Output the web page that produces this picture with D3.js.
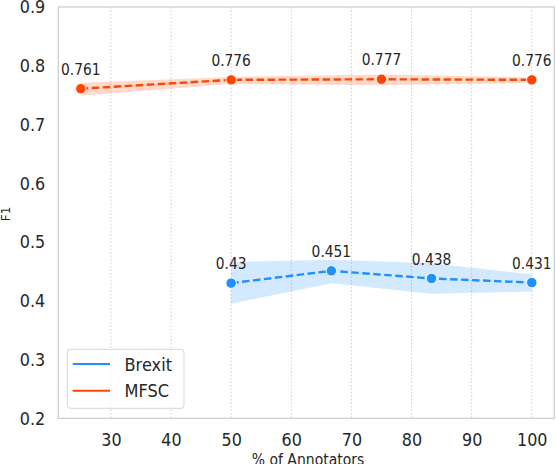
<!DOCTYPE html>
<html><head><meta charset="utf-8">
<script src="https://cdn.jsdelivr.net/npm/d3@7"></script>
<style>body{margin:0;background:#fff}svg{display:block}text{font-family:"DejaVu Sans",sans-serif;fill:#262626}
text.st{transform-box:fill-box;transform-origin:center;transform:scaleY(1.12)}</style>
</head><body><svg id="c" width="556" height="464"></svg>
<script>
const xTicks = [30,40,50,60,70,80,90,100];
const yTicks = [0.2,0.3,0.4,0.5,0.6,0.7,0.8,0.9];
const brexitX = [50, 66.67, 83.33, 100];
const brexitY = [0.43, 0.451, 0.438, 0.431];
const brexitLo = [0.395, 0.430, 0.412, 0.416];
const brexitHi = [0.466, 0.470, 0.464, 0.445];
const mfscX = [25, 50, 75, 100];
const mfscY = [0.761, 0.776, 0.777, 0.776];
const mfscLo = [0.749, 0.769, 0.767, 0.771];
const mfscHi = [0.771, 0.781, 0.785, 0.780];
const seriesNames = ["Brexit","MFSC"];
const colors = ["#1E90FF","#FF4500"];

const svg = d3.select("#c");
const L=58.3, R=554.3, T=7, B=418.3;
const x = d3.scaleLinear().domain([21.25,103.75]).range([L,R]);
const y = d3.scaleLinear().domain([0.2,0.9]).range([B,T]);

// grid
svg.append("g").selectAll("line").data(xTicks).join("line")
  .attr("x1",d=>x(d)).attr("x2",d=>x(d)).attr("y1",T).attr("y2",B)
  .attr("stroke","#c8c8c8").attr("stroke-width",0.9).attr("stroke-dasharray","1.5,2");
// spines
svg.append("rect").attr("x",L).attr("y",T).attr("width",R-L).attr("height",B-T)
  .attr("fill","none").attr("stroke","#cccccc").attr("stroke-width",1.2);

// axes
const xa = svg.append("g").attr("transform",`translate(0,${B})`)
  .call(d3.axisBottom(x).tickValues(xTicks).tickSize(0).tickPadding(16));
xa.select(".domain").remove();
xa.selectAll("text").attr("class","st").attr("font-size",16).attr("font-family","DejaVu Sans").attr("fill","#262626");
const ya = svg.append("g").attr("transform",`translate(${L},0)`)
  .call(d3.axisLeft(y).tickValues(yTicks).tickFormat(d3.format(".1f")).tickSize(0).tickPadding(13));
ya.select(".domain").remove();
ya.selectAll("text").attr("class","st").attr("font-size",16).attr("font-family","DejaVu Sans").attr("fill","#262626");

svg.append("text").attr("class","st").attr("x",308).attr("y",464).attr("text-anchor","middle").attr("font-size",14).text("% of Annotators");
svg.append("text").attr("transform","translate(10,214) rotate(-90)").attr("text-anchor","middle").attr("font-size",12).text("F1");

const series = [
  {xs:brexitX, ys:brexitY, lo:brexitLo, hi:brexitHi, c:colors[0]},
  {xs:mfscX, ys:mfscY, lo:mfscLo, hi:mfscHi, c:colors[1]}
];
series.forEach(s=>{
  const pts = s.xs.map((v,i)=>({x:v,y:s.ys[i],lo:s.lo[i],hi:s.hi[i]}));
  svg.append("path").datum(pts).attr("fill",s.c).attr("fill-opacity",0.2)
    .attr("d",d3.area().x(d=>x(d.x)).y0(d=>y(d.lo)).y1(d=>y(d.hi)));
  svg.append("path").datum(pts).attr("fill","none").attr("stroke",s.c).attr("stroke-width",2.4)
    .attr("stroke-dasharray","7.5,3.5")
    .attr("d",d3.line().x(d=>x(d.x)).y(d=>y(d.y)));
  svg.append("g").selectAll("circle").data(pts).join("circle")
    .attr("cx",d=>x(d.x)).attr("cy",d=>y(d.y)).attr("r",5.2)
    .attr("fill",s.c).attr("stroke","#fff").attr("stroke-width",0.9);
  svg.append("g").selectAll("text").data(pts).join("text").attr("class","st")
    .attr("x",d=>x(d.x)).attr("y",d=>y(d.y)-14.5).attr("text-anchor","middle")
    .attr("font-size",13.8).text(d=>String(d.y));
});

// legend
const lg = svg.append("g");
lg.append("rect").attr("x",67.3).attr("y",349.3).attr("width",116.7).attr("height",59)
  .attr("rx",3).attr("fill","#fff").attr("fill-opacity",0.8).attr("stroke","#d6d6d6").attr("stroke-width",1);
seriesNames.forEach((n,i)=>{
  const yy = 364 + i*26.7;
  lg.append("line").attr("x1",72.7).attr("x2",110).attr("y1",yy).attr("y2",yy)
    .attr("stroke",colors[i]).attr("stroke-width",2);
  lg.append("text").attr("class","st").attr("x",124.5).attr("y",yy+6).attr("font-size",16.2).text(n);
});
</script></body></html>
